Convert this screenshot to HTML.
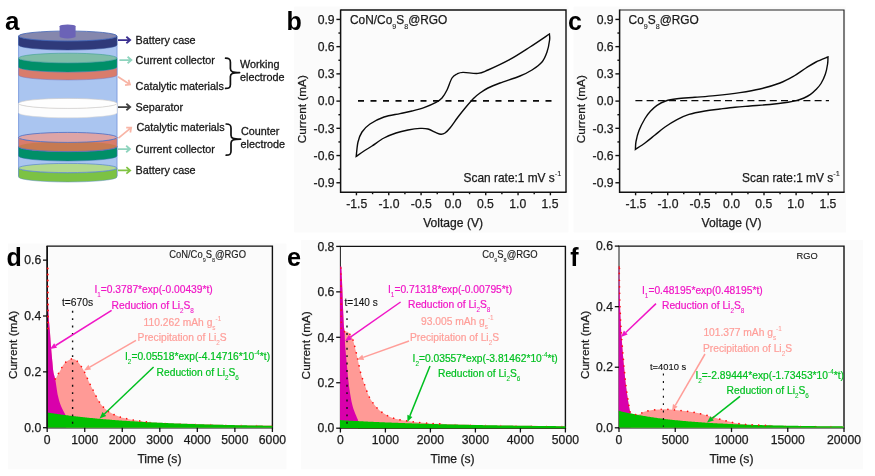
<!DOCTYPE html>
<html lang="en"><head><meta charset="utf-8"><title>Figure</title>
<style>html,body{margin:0;padding:0;background:#fff;}body{width:875px;height:476px;overflow:hidden;}svg{display:block;filter:blur(0.45px);}</style>
</head><body>
<svg width="875" height="476" viewBox="0 0 875 476" font-family='"Liberation Sans", sans-serif'>
<rect width="875" height="476" fill="#ffffff"/>
<rect x="294.2" y="6.6" width="274.2" height="225.8" fill="#fbfbfb"/>
<rect x="573.6" y="6.6" width="272.4" height="225.8" fill="#fbfbfb"/>
<rect x="8" y="243.6" width="278.4" height="225.6" fill="#fbfbfb"/>
<rect x="301" y="240" width="562" height="229.2" fill="#fbfbfb"/>
<path d="M18.6,36 L18.6,176 A49.2,5.0 0 0 0 117.0,176 L117.0,36 Z" fill="#aac5f0" stroke="#7897dc" stroke-width="0.9"/>
<path d="M18.6,168 L18.6,177 A49.2,5.0 0 0 0 117.0,177 L117.0,168 A49.2,5.0 0 0 1 18.6,168 Z" fill="#7cc244" stroke="#5a8fc0" stroke-width="0.5"/>
<ellipse cx="67.8" cy="168" rx="49.2" ry="4.6" fill="#b2d98d" stroke="#5a86cc" stroke-width="0.7"/>
<path d="M18.6,146.6 L18.6,156 A49.2,5.0 0 0 0 117.0,156 L117.0,146.6 A49.2,5.0 0 0 1 18.6,146.6 Z" fill="#008f68" stroke="#2a6fa8" stroke-width="0.5"/>
<path d="M18.6,137.4 L18.6,146.6 A49.2,5.0 0 0 0 117.0,146.6 L117.0,137.4 A49.2,5.0 0 0 1 18.6,137.4 Z" fill="#d97c6c" stroke="#6a76c0" stroke-width="0.5"/>
<path d="M18.6,146.6 A49.2,5.0 0 0 0 117.0,146.6 A49.2,5.0 0 0 0 18.6,146.6 Z" fill="#c67a52"/>
<path d="M18.6,146.6 A49.2,5.0 0 0 0 117.0,146.6" fill="none" stroke="#4a6ec6" stroke-width="0.7"/>
<ellipse cx="67.8" cy="137.4" rx="49.2" ry="5.0" fill="#dda4a6" stroke="#4a6ec6" stroke-width="0.8"/>
<path d="M18.6,103.4 L18.6,112.8 A49.2,5.0 0 0 0 117.0,112.8 L117.0,103.4 A49.2,5.0 0 0 1 18.6,103.4 Z" fill="#fdfdfd" stroke="#ddd8d0" stroke-width="0.5"/>
<ellipse cx="67.8" cy="103.4" rx="49.2" ry="5.0" fill="#fefefe" stroke="#cfcac4" stroke-width="0.6"/>
<path d="M18.6,67 L18.6,75 A49.2,5.0 0 0 0 117.0,75 L117.0,67 A49.2,5.0 0 0 1 18.6,67 Z" fill="#d97c6c" stroke="#7a78c0" stroke-width="0.5"/>
<path d="M18.6,58 L18.6,67 A49.2,5.0 0 0 0 117.0,67 L117.0,58 A49.2,5.0 0 0 1 18.6,58 Z" fill="#008f68" stroke="#2a7fa0" stroke-width="0.4"/>
<ellipse cx="67.8" cy="58" rx="49.2" ry="4.8" fill="#7fbda8" stroke="#3f9f94" stroke-width="0.6"/>
<path d="M18.6,36 L18.6,45.0 A49.2,5.0 0 0 0 117.0,45.0 L117.0,36 A49.2,5.0 0 0 1 18.6,36 Z" fill="#2f3a7a" stroke="#34509a" stroke-width="0.5"/>
<ellipse cx="67.8" cy="36" rx="49.2" ry="5.0" fill="#8587ad" stroke="#3f62b4" stroke-width="0.8"/>
<path d="M59.6,26.2 A7.9999999999999964,1.8 0 0 1 75.6,26.2 L75.6,36.6 A7.9999999999999964,1.8 0 0 1 59.6,36.6 Z" fill="#6b63b7"/>
<path d="M118.00,40.00 L130.20,40.00 M126.38,43.22 L130.20,40.00 L126.38,36.78" fill="none" stroke="#3a2f90" stroke-width="1.75" stroke-linecap="butt" stroke-linejoin="miter"/>
<path d="M119.40,60.00 L131.40,60.00 M127.58,63.22 L131.40,60.00 L127.58,56.78" fill="none" stroke="#8fd4be" stroke-width="1.75" stroke-linecap="butt" stroke-linejoin="miter"/>
<path d="M118.00,76.80 L130.00,84.60 M125.04,85.22 L130.00,84.60 L128.55,79.82" fill="none" stroke="#f8b5a6" stroke-width="1.75" stroke-linecap="butt" stroke-linejoin="miter"/>
<path d="M118.00,107.00 L130.20,107.00 M126.38,110.22 L130.20,107.00 L126.38,103.78" fill="none" stroke="#404040" stroke-width="1.75" stroke-linecap="butt" stroke-linejoin="miter"/>
<path d="M118.40,138.20 L131.20,127.60 M130.31,132.52 L131.20,127.60 L126.20,127.56" fill="none" stroke="#f8b5a6" stroke-width="1.75" stroke-linecap="butt" stroke-linejoin="miter"/>
<path d="M118.00,149.00 L130.00,149.00 M126.18,152.22 L130.00,149.00 L126.18,145.78" fill="none" stroke="#8fd4be" stroke-width="1.75" stroke-linecap="butt" stroke-linejoin="miter"/>
<path d="M118.00,170.40 L130.20,170.40 M126.38,173.62 L130.20,170.40 L126.38,167.18" fill="none" stroke="#80c342" stroke-width="1.75" stroke-linecap="butt" stroke-linejoin="miter"/>
<text x="135.60" y="43.80" font-size="10.8" fill="#161616" stroke="#161616" stroke-width="0.28">Battery case</text>
<text x="135.60" y="64.20" font-size="10.8" fill="#161616" stroke="#161616" stroke-width="0.28">Current collector</text>
<text x="135.60" y="89.60" font-size="10.8" fill="#161616" stroke="#161616" stroke-width="0.28">Catalytic materials</text>
<text x="135.60" y="110.50" font-size="10.8" fill="#161616" stroke="#161616" stroke-width="0.28">Separator</text>
<text x="136.40" y="130.70" font-size="10.8" fill="#161616" stroke="#161616" stroke-width="0.28">Catalytic materials</text>
<text x="135.60" y="152.50" font-size="10.8" fill="#161616" stroke="#161616" stroke-width="0.28">Current collector</text>
<text x="135.60" y="174.20" font-size="10.8" fill="#161616" stroke="#161616" stroke-width="0.28">Battery case</text>
<text x="240.00" y="67.70" font-size="10.8" fill="#161616" stroke="#161616" stroke-width="0.28">Working</text>
<text x="240.00" y="81.40" font-size="10.8" fill="#161616" stroke="#161616" stroke-width="0.28">electrode</text>
<text x="241.00" y="135.10" font-size="10.8" fill="#161616" stroke="#161616" stroke-width="0.28">Counter</text>
<text x="240.60" y="148.40" font-size="10.8" fill="#161616" stroke="#161616" stroke-width="0.28">electrode</text>
<path d="M225.6,58.2 C229.4,58.2 230.4,59.2 230.4,62.2 L230.4,68.6 C230.4,71.6 232.4,72.6 239.6,72.6 C232.4,72.6 230.4,73.6 230.4,76.6 L230.4,84.4 C230.4,87.4 229.4,88.4 225.6,88.4" fill="none" stroke="#111" stroke-width="1.7" stroke-linecap="round" stroke-linejoin="round"/>
<path d="M226.2,124.0 C230.0,124.0 231.0,125.0 231.0,128.0 L231.0,135.2 C231.0,138.2 233.0,139.2 240.6,139.2 C233.0,139.2 231.0,140.2 231.0,143.2 L231.0,151.2 C231.0,154.2 230.0,155.2 226.2,155.2" fill="none" stroke="#111" stroke-width="1.7" stroke-linecap="round" stroke-linejoin="round"/>
<text x="5.00" y="30.30" font-size="26" fill="#000" font-weight="bold">a</text>
<path d="M340.6,10.0 L566,10.0 L566,192.3" fill="none" stroke="#111" stroke-width="1.4"/>
<path d="M340.6,9.4 L340.6,192.3 L566.6,192.3" fill="none" stroke="#111" stroke-width="1.5"/>
<line x1="336.40" y1="19.42" x2="340.6" y2="19.42" stroke="#111" stroke-width="1.4"/>
<text x="334.60" y="23.67" font-size="12.2" fill="#1a1a1a" stroke="#1a1a1a" stroke-width="0.25" text-anchor="end">0.9</text>
<line x1="338.40" y1="33.04" x2="340.6" y2="33.04" stroke="#111" stroke-width="1.4"/>
<line x1="336.40" y1="46.65" x2="340.6" y2="46.65" stroke="#111" stroke-width="1.4"/>
<text x="334.60" y="50.90" font-size="12.2" fill="#1a1a1a" stroke="#1a1a1a" stroke-width="0.25" text-anchor="end">0.6</text>
<line x1="338.40" y1="60.26" x2="340.6" y2="60.26" stroke="#111" stroke-width="1.4"/>
<line x1="336.40" y1="73.87" x2="340.6" y2="73.87" stroke="#111" stroke-width="1.4"/>
<text x="334.60" y="78.12" font-size="12.2" fill="#1a1a1a" stroke="#1a1a1a" stroke-width="0.25" text-anchor="end">0.3</text>
<line x1="338.40" y1="87.49" x2="340.6" y2="87.49" stroke="#111" stroke-width="1.4"/>
<line x1="336.40" y1="101.10" x2="340.6" y2="101.10" stroke="#111" stroke-width="1.4"/>
<text x="334.60" y="105.35" font-size="12.2" fill="#1a1a1a" stroke="#1a1a1a" stroke-width="0.25" text-anchor="end">0.0</text>
<line x1="338.40" y1="114.71" x2="340.6" y2="114.71" stroke="#111" stroke-width="1.4"/>
<line x1="336.40" y1="128.32" x2="340.6" y2="128.32" stroke="#111" stroke-width="1.4"/>
<text x="334.60" y="132.57" font-size="12.2" fill="#1a1a1a" stroke="#1a1a1a" stroke-width="0.25" text-anchor="end">-0.3</text>
<line x1="338.40" y1="141.94" x2="340.6" y2="141.94" stroke="#111" stroke-width="1.4"/>
<line x1="336.40" y1="155.55" x2="340.6" y2="155.55" stroke="#111" stroke-width="1.4"/>
<text x="334.60" y="159.80" font-size="12.2" fill="#1a1a1a" stroke="#1a1a1a" stroke-width="0.25" text-anchor="end">-0.6</text>
<line x1="338.40" y1="169.16" x2="340.6" y2="169.16" stroke="#111" stroke-width="1.4"/>
<line x1="336.40" y1="182.77" x2="340.6" y2="182.77" stroke="#111" stroke-width="1.4"/>
<text x="334.60" y="187.02" font-size="12.2" fill="#1a1a1a" stroke="#1a1a1a" stroke-width="0.25" text-anchor="end">-0.9</text>
<line x1="356.43" y1="192.3" x2="356.43" y2="195.30" stroke="#111" stroke-width="1.4"/>
<text x="356.73" y="208.00" font-size="12.2" fill="#1a1a1a" stroke="#1a1a1a" stroke-width="0.25" text-anchor="middle">-1.5</text>
<line x1="372.59" y1="192.3" x2="372.59" y2="194.20" stroke="#111" stroke-width="1.4"/>
<line x1="388.75" y1="192.3" x2="388.75" y2="195.30" stroke="#111" stroke-width="1.4"/>
<text x="389.05" y="208.00" font-size="12.2" fill="#1a1a1a" stroke="#1a1a1a" stroke-width="0.25" text-anchor="middle">-1.0</text>
<line x1="404.91" y1="192.3" x2="404.91" y2="194.20" stroke="#111" stroke-width="1.4"/>
<line x1="421.08" y1="192.3" x2="421.08" y2="195.30" stroke="#111" stroke-width="1.4"/>
<text x="421.38" y="208.00" font-size="12.2" fill="#1a1a1a" stroke="#1a1a1a" stroke-width="0.25" text-anchor="middle">-0.5</text>
<line x1="437.24" y1="192.3" x2="437.24" y2="194.20" stroke="#111" stroke-width="1.4"/>
<line x1="453.40" y1="192.3" x2="453.40" y2="195.30" stroke="#111" stroke-width="1.4"/>
<text x="453.10" y="208.00" font-size="12.2" fill="#1a1a1a" stroke="#1a1a1a" stroke-width="0.25" text-anchor="middle">0.0</text>
<line x1="469.56" y1="192.3" x2="469.56" y2="194.20" stroke="#111" stroke-width="1.4"/>
<line x1="485.73" y1="192.3" x2="485.73" y2="195.30" stroke="#111" stroke-width="1.4"/>
<text x="485.43" y="208.00" font-size="12.2" fill="#1a1a1a" stroke="#1a1a1a" stroke-width="0.25" text-anchor="middle">0.5</text>
<line x1="501.89" y1="192.3" x2="501.89" y2="194.20" stroke="#111" stroke-width="1.4"/>
<line x1="518.05" y1="192.3" x2="518.05" y2="195.30" stroke="#111" stroke-width="1.4"/>
<text x="517.75" y="208.00" font-size="12.2" fill="#1a1a1a" stroke="#1a1a1a" stroke-width="0.25" text-anchor="middle">1.0</text>
<line x1="534.21" y1="192.3" x2="534.21" y2="194.20" stroke="#111" stroke-width="1.4"/>
<line x1="550.38" y1="192.3" x2="550.38" y2="195.30" stroke="#111" stroke-width="1.4"/>
<text x="550.08" y="208.00" font-size="12.2" fill="#1a1a1a" stroke="#1a1a1a" stroke-width="0.25" text-anchor="middle">1.5</text>
<line x1="358" y1="100.8" x2="552.5" y2="100.8" stroke="#0a0a0a" stroke-width="1.7" stroke-dasharray="6 6.5"/>
<path d="M356.20,156.40 C356.50,154.00 357.03,146.07 358.00,142.00 C358.97,137.93 360.00,135.00 362.00,132.00 C364.00,129.00 366.33,126.50 370.00,124.00 C373.67,121.50 379.00,118.73 384.00,117.00 C389.00,115.27 395.33,114.60 400.00,113.60 C404.67,112.60 408.00,112.00 412.00,111.00 C416.00,110.00 420.00,109.03 424.00,107.60 C428.00,106.17 433.00,104.00 436.00,102.40 C439.00,100.80 440.17,100.07 442.00,98.00 C443.83,95.93 445.33,93.33 447.00,90.00 C448.67,86.67 450.33,80.67 452.00,78.00 C453.67,75.33 455.17,74.93 457.00,74.00 C458.83,73.07 459.50,72.50 463.00,72.40 C466.50,72.30 473.83,73.80 478.00,73.40 C482.17,73.00 482.67,72.33 488.00,70.00 C493.33,67.67 503.00,63.23 510.00,59.40 C517.00,55.57 523.43,51.23 530.00,47.00 C536.57,42.77 546.17,36.17 549.40,34.00 C549.43,35.00 550.00,37.00 549.60,40.00 C549.20,43.00 548.27,48.33 547.00,52.00 C545.73,55.67 544.50,59.00 542.00,62.00 C539.50,65.00 535.67,67.67 532.00,70.00 C528.33,72.33 525.33,73.83 520.00,76.00 C514.67,78.17 505.33,81.00 500.00,83.00 C494.67,85.00 491.33,86.33 488.00,88.00 C484.67,89.67 482.33,91.33 480.00,93.00 C477.67,94.67 476.33,95.67 474.00,98.00 C471.67,100.33 468.67,103.83 466.00,107.00 C463.33,110.17 460.67,113.50 458.00,117.00 C455.33,120.50 452.17,125.33 450.00,128.00 C447.83,130.67 446.50,131.97 445.00,133.00 C443.50,134.03 442.50,134.27 441.00,134.20 C439.50,134.13 438.17,133.47 436.00,132.60 C433.83,131.73 430.67,129.70 428.00,129.00 C425.33,128.30 423.33,128.23 420.00,128.40 C416.67,128.57 412.00,129.23 408.00,130.00 C404.00,130.77 400.00,131.67 396.00,133.00 C392.00,134.33 388.00,135.83 384.00,138.00 C380.00,140.17 375.33,143.83 372.00,146.00 C368.67,148.17 366.63,149.27 364.00,151.00 C361.37,152.73 357.50,155.50 356.20,156.40 Z" fill="none" stroke="#0a0a0a" stroke-width="1.4" stroke-linejoin="miter"/>
<text x="350.00" y="24.10" font-size="11.9" fill="#1a1a1a" stroke="#1a1a1a" stroke-width="0.25">CoN/Co<tspan dy="4.52" font-size="7.14" stroke-width="0.10">9</tspan><tspan dy="-4.52">S</tspan><tspan dy="4.52" font-size="7.14" stroke-width="0.10">8</tspan><tspan dy="-4.52">@RGO</tspan></text>
<text x="463.60" y="181.50" font-size="11.9" fill="#1a1a1a" stroke="#1a1a1a" stroke-width="0.25">Scan rate:1 mV s<tspan dy="-5.71" font-size="7.38" stroke-width="0.10">-1</tspan></text>
<text x="423.20" y="227.20" font-size="12.1" fill="#1a1a1a" stroke="#1a1a1a" stroke-width="0.25">Voltage (V)</text>
<text transform="translate(306,109.19999999999999) rotate(-90)" font-size="11.8" fill="#1a1a1a" stroke="#1a1a1a" stroke-width="0.25" text-anchor="middle">Current (mA)</text>
<text x="286.60" y="29.90" font-size="25" fill="#000" font-weight="bold">b</text>
<path d="M619.6,10.0 L844,10.0 L844,192.3" fill="none" stroke="#222" stroke-width="1.15"/>
<path d="M619.6,9.4 L619.6,192.3 L844.6,192.3" fill="none" stroke="#111" stroke-width="1.5"/>
<line x1="615.40" y1="19.42" x2="619.6" y2="19.42" stroke="#111" stroke-width="1.4"/>
<text x="613.60" y="23.67" font-size="12.2" fill="#1a1a1a" stroke="#1a1a1a" stroke-width="0.25" text-anchor="end">0.9</text>
<line x1="617.40" y1="33.04" x2="619.6" y2="33.04" stroke="#111" stroke-width="1.4"/>
<line x1="615.40" y1="46.65" x2="619.6" y2="46.65" stroke="#111" stroke-width="1.4"/>
<text x="613.60" y="50.90" font-size="12.2" fill="#1a1a1a" stroke="#1a1a1a" stroke-width="0.25" text-anchor="end">0.6</text>
<line x1="617.40" y1="60.26" x2="619.6" y2="60.26" stroke="#111" stroke-width="1.4"/>
<line x1="615.40" y1="73.87" x2="619.6" y2="73.87" stroke="#111" stroke-width="1.4"/>
<text x="613.60" y="78.12" font-size="12.2" fill="#1a1a1a" stroke="#1a1a1a" stroke-width="0.25" text-anchor="end">0.3</text>
<line x1="617.40" y1="87.49" x2="619.6" y2="87.49" stroke="#111" stroke-width="1.4"/>
<line x1="615.40" y1="101.10" x2="619.6" y2="101.10" stroke="#111" stroke-width="1.4"/>
<text x="613.60" y="105.35" font-size="12.2" fill="#1a1a1a" stroke="#1a1a1a" stroke-width="0.25" text-anchor="end">0.0</text>
<line x1="617.40" y1="114.71" x2="619.6" y2="114.71" stroke="#111" stroke-width="1.4"/>
<line x1="615.40" y1="128.32" x2="619.6" y2="128.32" stroke="#111" stroke-width="1.4"/>
<text x="613.60" y="132.57" font-size="12.2" fill="#1a1a1a" stroke="#1a1a1a" stroke-width="0.25" text-anchor="end">-0.3</text>
<line x1="617.40" y1="141.94" x2="619.6" y2="141.94" stroke="#111" stroke-width="1.4"/>
<line x1="615.40" y1="155.55" x2="619.6" y2="155.55" stroke="#111" stroke-width="1.4"/>
<text x="613.60" y="159.80" font-size="12.2" fill="#1a1a1a" stroke="#1a1a1a" stroke-width="0.25" text-anchor="end">-0.6</text>
<line x1="617.40" y1="169.16" x2="619.6" y2="169.16" stroke="#111" stroke-width="1.4"/>
<line x1="615.40" y1="182.77" x2="619.6" y2="182.77" stroke="#111" stroke-width="1.4"/>
<text x="613.60" y="187.02" font-size="12.2" fill="#1a1a1a" stroke="#1a1a1a" stroke-width="0.25" text-anchor="end">-0.9</text>
<line x1="635.60" y1="192.3" x2="635.60" y2="195.30" stroke="#111" stroke-width="1.4"/>
<text x="635.90" y="208.00" font-size="12.2" fill="#1a1a1a" stroke="#1a1a1a" stroke-width="0.25" text-anchor="middle">-1.5</text>
<line x1="651.65" y1="192.3" x2="651.65" y2="194.20" stroke="#111" stroke-width="1.4"/>
<line x1="667.70" y1="192.3" x2="667.70" y2="195.30" stroke="#111" stroke-width="1.4"/>
<text x="668.00" y="208.00" font-size="12.2" fill="#1a1a1a" stroke="#1a1a1a" stroke-width="0.25" text-anchor="middle">-1.0</text>
<line x1="683.75" y1="192.3" x2="683.75" y2="194.20" stroke="#111" stroke-width="1.4"/>
<line x1="699.80" y1="192.3" x2="699.80" y2="195.30" stroke="#111" stroke-width="1.4"/>
<text x="700.10" y="208.00" font-size="12.2" fill="#1a1a1a" stroke="#1a1a1a" stroke-width="0.25" text-anchor="middle">-0.5</text>
<line x1="715.85" y1="192.3" x2="715.85" y2="194.20" stroke="#111" stroke-width="1.4"/>
<line x1="731.90" y1="192.3" x2="731.90" y2="195.30" stroke="#111" stroke-width="1.4"/>
<text x="731.60" y="208.00" font-size="12.2" fill="#1a1a1a" stroke="#1a1a1a" stroke-width="0.25" text-anchor="middle">0.0</text>
<line x1="747.95" y1="192.3" x2="747.95" y2="194.20" stroke="#111" stroke-width="1.4"/>
<line x1="764.00" y1="192.3" x2="764.00" y2="195.30" stroke="#111" stroke-width="1.4"/>
<text x="763.70" y="208.00" font-size="12.2" fill="#1a1a1a" stroke="#1a1a1a" stroke-width="0.25" text-anchor="middle">0.5</text>
<line x1="780.05" y1="192.3" x2="780.05" y2="194.20" stroke="#111" stroke-width="1.4"/>
<line x1="796.10" y1="192.3" x2="796.10" y2="195.30" stroke="#111" stroke-width="1.4"/>
<text x="795.80" y="208.00" font-size="12.2" fill="#1a1a1a" stroke="#1a1a1a" stroke-width="0.25" text-anchor="middle">1.0</text>
<line x1="812.15" y1="192.3" x2="812.15" y2="194.20" stroke="#111" stroke-width="1.4"/>
<line x1="828.20" y1="192.3" x2="828.20" y2="195.30" stroke="#111" stroke-width="1.4"/>
<text x="827.90" y="208.00" font-size="12.2" fill="#1a1a1a" stroke="#1a1a1a" stroke-width="0.25" text-anchor="middle">1.5</text>
<line x1="635.4" y1="100.6" x2="829" y2="100.6" stroke="#0a0a0a" stroke-width="1.2" stroke-dasharray="7 4.2"/>
<path d="M635.40,149.40 C635.50,148.08 635.40,144.65 636.00,141.50 C636.60,138.35 637.50,134.33 639.00,130.50 C640.50,126.67 643.10,121.70 645.00,118.50 C646.90,115.30 648.40,113.48 650.40,111.30 C652.40,109.12 654.45,107.12 657.00,105.40 C659.55,103.68 662.37,102.10 665.70,101.00 C669.03,99.90 672.12,99.42 677.00,98.80 C681.88,98.18 688.67,97.83 695.00,97.30 C701.33,96.77 707.50,96.38 715.00,95.60 C722.50,94.82 732.50,93.70 740.00,92.60 C747.50,91.50 753.33,90.60 760.00,89.00 C766.67,87.40 774.33,85.17 780.00,83.00 C785.67,80.83 789.67,78.50 794.00,76.00 C798.33,73.50 802.33,70.33 806.00,68.00 C809.67,65.67 812.33,63.83 816.00,62.00 C819.67,60.17 826.00,57.83 828.00,57.00 C827.93,58.17 828.03,61.17 827.60,64.00 C827.17,66.83 826.50,70.75 825.40,74.00 C824.30,77.25 822.57,80.90 821.00,83.50 C819.43,86.10 817.75,87.78 816.00,89.60 C814.25,91.42 812.50,93.00 810.50,94.40 C808.50,95.80 806.25,97.00 804.00,98.00 C801.75,99.00 799.67,99.70 797.00,100.40 C794.33,101.10 792.50,101.52 788.00,102.20 C783.50,102.88 776.33,103.87 770.00,104.50 C763.67,105.13 755.83,105.55 750.00,106.00 C744.17,106.45 740.00,106.70 735.00,107.20 C730.00,107.70 725.00,108.37 720.00,109.00 C715.00,109.63 710.17,110.10 705.00,111.00 C699.83,111.90 693.67,112.97 689.00,114.40 C684.33,115.83 681.00,117.50 677.00,119.60 C673.00,121.70 668.67,124.43 665.00,127.00 C661.33,129.57 658.33,132.33 655.00,135.00 C651.67,137.67 648.27,140.60 645.00,143.00 C641.73,145.40 637.00,148.33 635.40,149.40 Z" fill="none" stroke="#0a0a0a" stroke-width="1.4" stroke-linejoin="miter"/>
<text x="628.60" y="24.10" font-size="11.9" fill="#1a1a1a" stroke="#1a1a1a" stroke-width="0.25">Co<tspan dy="4.52" font-size="7.14" stroke-width="0.10">9</tspan><tspan dy="-4.52">S</tspan><tspan dy="4.52" font-size="7.14" stroke-width="0.10">8</tspan><tspan dy="-4.52">@RGO</tspan></text>
<text x="742.00" y="181.50" font-size="11.9" fill="#1a1a1a" stroke="#1a1a1a" stroke-width="0.25">Scan rate:1 mV s<tspan dy="-5.71" font-size="7.38" stroke-width="0.10">-1</tspan></text>
<text x="701.60" y="227.20" font-size="12.1" fill="#1a1a1a" stroke="#1a1a1a" stroke-width="0.25">Voltage (V)</text>
<text transform="translate(585,109.19999999999999) rotate(-90)" font-size="11.8" fill="#1a1a1a" stroke="#1a1a1a" stroke-width="0.25" text-anchor="middle">Current (mA)</text>
<text x="568.00" y="29.90" font-size="25" fill="#000" font-weight="bold">c</text>
<path d="M47.2,246.1 L272.4,246.1 L272.4,427.7 L47.2,427.7" fill="none" stroke="#111" stroke-width="1.4" stroke-linecap="square"/>
<path d="M47.2,427.7 L47.2,246.1" fill="none" stroke="#111" stroke-width="1.4"/>
<path d="M47.30,267.00 C47.37,270.83 47.48,282.00 47.70,290.00 C47.92,298.00 48.25,308.33 48.60,315.00 C48.95,321.67 49.37,324.33 49.80,330.00 C50.23,335.67 50.77,343.67 51.20,349.00 C51.63,354.33 52.03,358.17 52.40,362.00 C52.77,365.83 52.93,369.17 53.40,372.00 C53.87,374.83 54.52,378.50 55.20,379.00 C55.88,379.50 56.70,376.33 57.50,375.00 C58.30,373.67 58.92,372.83 60.00,371.00 C61.08,369.17 62.50,365.83 64.00,364.00 C65.50,362.17 67.50,360.83 69.00,360.00 C70.50,359.17 71.50,358.67 73.00,359.00 C74.50,359.33 76.17,360.00 78.00,362.00 C79.83,364.00 82.17,367.67 84.00,371.00 C85.83,374.33 87.33,378.50 89.00,382.00 C90.67,385.50 92.17,388.50 94.00,392.00 C95.83,395.50 98.00,400.07 100.00,403.00 C102.00,405.93 104.00,407.83 106.00,409.60 C108.00,411.37 109.67,412.37 112.00,413.60 C114.33,414.83 117.00,416.03 120.00,417.00 C123.00,417.97 126.67,418.73 130.00,419.40 C133.33,420.07 136.67,420.53 140.00,421.00 C143.33,421.47 146.67,421.90 150.00,422.20 C153.33,422.50 155.83,422.57 160.00,422.80 C164.17,423.03 169.00,423.40 175.00,423.60 C181.00,423.80 186.83,423.77 196.00,424.00 C205.17,424.23 217.33,424.73 230.00,425.00 C242.67,425.27 265.00,425.50 272.00,425.60 L272.00,427.7 L47.30,427.7 Z" fill="#ff9a96"/>
<path d="M47.30,267.00 C47.37,270.83 47.48,282.00 47.70,290.00 C47.92,298.00 48.25,308.33 48.60,315.00 C48.95,321.67 49.37,324.33 49.80,330.00 C50.23,335.67 50.77,343.67 51.20,349.00 C51.63,354.33 52.03,358.17 52.40,362.00 C52.77,365.83 52.93,369.17 53.40,372.00 C53.87,374.83 54.43,375.00 55.20,379.00 C55.97,383.00 57.03,391.50 58.00,396.00 C58.97,400.50 59.83,403.00 61.00,406.00 C62.17,409.00 64.17,412.33 65.00,414.00 C65.83,415.67 65.83,415.67 66.00,416.00 L66.00,427.7 L47.2,427.7 L47.2,267 Z" fill="#d900ab"/>
<path d="M47.2,427.7 L47.2,412.48 L47.20,412.48 L48.33,412.66 L49.45,412.83 L50.58,413.01 L51.70,413.18 L52.83,413.35 L53.96,413.51 L55.08,413.68 L56.21,413.84 L57.33,414.00 L58.46,414.16 L59.59,414.32 L60.71,414.47 L61.84,414.63 L62.96,414.78 L64.09,414.93 L65.22,415.07 L66.34,415.22 L67.47,415.36 L68.59,415.51 L69.72,415.65 L70.85,415.79 L71.97,415.92 L73.10,416.06 L74.22,416.19 L75.35,416.32 L76.48,416.46 L77.60,416.58 L78.73,416.71 L79.85,416.84 L80.98,416.96 L82.11,417.08 L83.23,417.21 L84.36,417.33 L85.48,417.44 L86.61,417.56 L87.74,417.68 L88.86,417.79 L89.99,417.90 L91.11,418.01 L92.24,418.12 L93.37,418.23 L94.49,418.34 L95.62,418.45 L96.74,418.55 L97.87,418.65 L99.00,418.76 L100.12,418.86 L101.25,418.96 L102.37,419.05 L103.50,419.15 L104.63,419.25 L105.75,419.34 L106.88,419.44 L108.00,419.53 L109.13,419.62 L110.26,419.71 L111.38,419.80 L112.51,419.89 L113.63,419.97 L114.76,420.06 L115.89,420.14 L117.01,420.23 L118.14,420.31 L119.26,420.39 L120.39,420.47 L121.52,420.55 L122.64,420.63 L123.77,420.71 L124.89,420.79 L126.02,420.86 L127.15,420.94 L128.27,421.01 L129.40,421.09 L130.52,421.16 L131.65,421.23 L132.78,421.30 L133.90,421.37 L135.03,421.44 L136.15,421.51 L137.28,421.57 L138.41,421.64 L139.53,421.71 L140.66,421.77 L141.78,421.83 L142.91,421.90 L144.04,421.96 L145.16,422.02 L146.29,422.08 L147.41,422.14 L148.54,422.20 L149.67,422.26 L150.79,422.32 L151.92,422.38 L153.04,422.43 L154.17,422.49 L155.30,422.54 L156.42,422.60 L157.55,422.65 L158.67,422.70 L159.80,422.76 L160.93,422.81 L162.05,422.86 L163.18,422.91 L164.30,422.96 L165.43,423.01 L166.56,423.06 L167.68,423.11 L168.81,423.16 L169.93,423.20 L171.06,423.25 L172.19,423.29 L173.31,423.34 L174.44,423.38 L175.56,423.43 L176.69,423.47 L177.82,423.52 L178.94,423.56 L180.07,423.60 L181.19,423.64 L182.32,423.68 L183.45,423.72 L184.57,423.76 L185.70,423.80 L186.82,423.84 L187.95,423.88 L189.08,423.92 L190.20,423.96 L191.33,423.99 L192.45,424.03 L193.58,424.07 L194.71,424.10 L195.83,424.14 L196.96,424.17 L198.08,424.21 L199.21,424.24 L200.34,424.28 L201.46,424.31 L202.59,424.34 L203.71,424.37 L204.84,424.41 L205.97,424.44 L207.09,424.47 L208.22,424.50 L209.34,424.53 L210.47,424.56 L211.60,424.59 L212.72,424.62 L213.85,424.65 L214.97,424.68 L216.10,424.71 L217.23,424.74 L218.35,424.76 L219.48,424.79 L220.60,424.82 L221.73,424.84 L222.86,424.87 L223.98,424.90 L225.11,424.92 L226.23,424.95 L227.36,424.97 L228.49,425.00 L229.61,425.02 L230.74,425.05 L231.86,425.07 L232.99,425.09 L234.12,425.12 L235.24,425.14 L236.37,425.16 L237.49,425.19 L238.62,425.21 L239.75,425.23 L240.87,425.25 L242.00,425.27 L243.12,425.29 L244.25,425.31 L245.38,425.34 L246.50,425.36 L247.63,425.38 L248.75,425.40 L249.88,425.42 L251.01,425.43 L252.13,425.45 L253.26,425.47 L254.38,425.49 L255.51,425.51 L256.64,425.53 L257.76,425.55 L258.89,425.56 L260.01,425.58 L261.14,425.60 L262.27,425.62 L263.39,425.63 L264.52,425.65 L265.64,425.67 L266.77,425.68 L267.90,425.70 L269.02,425.71 L270.15,425.73 L271.27,425.75 L272.40,425.76 L272.4,427.7 Z" fill="#00c000"/>
<line x1="72.6" y1="310.8" x2="72.6" y2="426.7" stroke="#111" stroke-width="1.4" stroke-dasharray="1.9 5.5"/>
<path d="M47.2,427.7 L47.2,246.1" fill="none" stroke="#111" stroke-width="1.4"/>
<path d="M55.20,379.00 C55.58,378.33 56.70,376.33 57.50,375.00 C58.30,373.67 58.92,372.83 60.00,371.00 C61.08,369.17 62.50,365.83 64.00,364.00 C65.50,362.17 67.50,360.83 69.00,360.00 C70.50,359.17 71.50,358.67 73.00,359.00 C74.50,359.33 76.17,360.00 78.00,362.00 C79.83,364.00 82.17,367.67 84.00,371.00 C85.83,374.33 87.33,378.50 89.00,382.00 C90.67,385.50 92.17,388.50 94.00,392.00 C95.83,395.50 98.00,400.07 100.00,403.00 C102.00,405.93 104.00,407.83 106.00,409.60 C108.00,411.37 109.67,412.37 112.00,413.60 C114.33,414.83 117.00,416.03 120.00,417.00 C123.00,417.97 126.67,418.73 130.00,419.40 C133.33,420.07 136.67,420.53 140.00,421.00 C143.33,421.47 148.33,422.00 150.00,422.20" fill="none" stroke="#ff1010" stroke-width="1.7" stroke-dasharray="0.01 6.6" stroke-linecap="round"/>
<path d="M150.00,422.20 C151.67,422.30 155.83,422.57 160.00,422.80 C164.17,423.03 169.00,423.40 175.00,423.60 C181.00,423.80 186.83,423.77 196.00,424.00 C205.17,424.23 217.33,424.73 230.00,425.00 C242.67,425.27 265.00,425.50 272.00,425.60" fill="none" stroke="#ff1010" stroke-width="1.2" stroke-dasharray="0.01 15.2" stroke-linecap="round" opacity="0.45"/>
<line x1="47.7" y1="268.5" x2="48.1" y2="334" stroke="#ff1010" stroke-width="2.0" stroke-dasharray="0.01 6" stroke-linecap="round"/>
<line x1="43.00" y1="427.70" x2="47.2" y2="427.70" stroke="#111" stroke-width="1.3"/>
<text x="41.20" y="431.95" font-size="12.2" fill="#1a1a1a" stroke="#1a1a1a" stroke-width="0.25" text-anchor="end">0.0</text>
<line x1="43.00" y1="371.85" x2="47.2" y2="371.85" stroke="#111" stroke-width="1.3"/>
<text x="41.20" y="376.10" font-size="12.2" fill="#1a1a1a" stroke="#1a1a1a" stroke-width="0.25" text-anchor="end">0.2</text>
<line x1="43.00" y1="316.00" x2="47.2" y2="316.00" stroke="#111" stroke-width="1.3"/>
<text x="41.20" y="320.25" font-size="12.2" fill="#1a1a1a" stroke="#1a1a1a" stroke-width="0.25" text-anchor="end">0.4</text>
<line x1="43.00" y1="260.15" x2="47.2" y2="260.15" stroke="#111" stroke-width="1.3"/>
<text x="41.20" y="264.40" font-size="12.2" fill="#1a1a1a" stroke="#1a1a1a" stroke-width="0.25" text-anchor="end">0.6</text>
<line x1="47.20" y1="427.7" x2="47.20" y2="432.00" stroke="#111" stroke-width="1.3"/>
<text x="47.20" y="443.70" font-size="12.2" fill="#1a1a1a" stroke="#1a1a1a" stroke-width="0.25" text-anchor="middle">0</text>
<line x1="84.73" y1="427.7" x2="84.73" y2="432.00" stroke="#111" stroke-width="1.3"/>
<text x="84.73" y="443.70" font-size="12.2" fill="#1a1a1a" stroke="#1a1a1a" stroke-width="0.25" text-anchor="middle">1000</text>
<line x1="122.27" y1="427.7" x2="122.27" y2="432.00" stroke="#111" stroke-width="1.3"/>
<text x="122.27" y="443.70" font-size="12.2" fill="#1a1a1a" stroke="#1a1a1a" stroke-width="0.25" text-anchor="middle">2000</text>
<line x1="159.80" y1="427.7" x2="159.80" y2="432.00" stroke="#111" stroke-width="1.3"/>
<text x="159.80" y="443.70" font-size="12.2" fill="#1a1a1a" stroke="#1a1a1a" stroke-width="0.25" text-anchor="middle">3000</text>
<line x1="197.33" y1="427.7" x2="197.33" y2="432.00" stroke="#111" stroke-width="1.3"/>
<text x="197.33" y="443.70" font-size="12.2" fill="#1a1a1a" stroke="#1a1a1a" stroke-width="0.25" text-anchor="middle">4000</text>
<line x1="234.87" y1="427.7" x2="234.87" y2="432.00" stroke="#111" stroke-width="1.3"/>
<text x="234.87" y="443.70" font-size="12.2" fill="#1a1a1a" stroke="#1a1a1a" stroke-width="0.25" text-anchor="middle">5000</text>
<line x1="272.40" y1="427.7" x2="272.40" y2="432.00" stroke="#111" stroke-width="1.3"/>
<text x="272.40" y="443.70" font-size="12.2" fill="#1a1a1a" stroke="#1a1a1a" stroke-width="0.25" text-anchor="middle">6000</text>
<text x="94.40" y="293.00" font-size="10.25" fill="#f016c6" stroke="#f016c6" stroke-width="0.2">I<tspan dy="3.90" font-size="6.35" stroke-width="0.08">1</tspan><tspan dy="-3.90">=0.3787*exp(-0.00439*t)</tspan></text>
<text x="111.60" y="309.00" font-size="10.25" fill="#f016c6" stroke="#f016c6" stroke-width="0.2">Reduction of Li<tspan dy="3.90" font-size="6.35" stroke-width="0.08">2</tspan><tspan dy="-3.90">S</tspan><tspan dy="3.90" font-size="6.35" stroke-width="0.08">8</tspan></text>
<text x="143.60" y="325.60" font-size="10.25" fill="#ff9e99" stroke="#ff9e99" stroke-width="0.2">110.262 mAh g<tspan dy="3.90" font-size="6.35" stroke-width="0.08">s</tspan><tspan dy="-8.81" font-size="6.35" stroke-width="0.08">-1</tspan></text>
<text x="137.60" y="341.00" font-size="10.25" fill="#ff9e99" stroke="#ff9e99" stroke-width="0.2">Precipitation of Li<tspan dy="3.90" font-size="6.35" stroke-width="0.08">2</tspan><tspan dy="-3.90">S</tspan></text>
<text x="125.00" y="360.40" font-size="10.25" fill="#00c020" stroke="#00c020" stroke-width="0.2">I<tspan dy="3.90" font-size="6.35" stroke-width="0.08">2</tspan><tspan dy="-3.90">=0.05518*exp(-4.14716*10</tspan><tspan dy="-4.92" font-size="6.35" stroke-width="0.08">-4</tspan><tspan dy="4.92">*t)</tspan></text>
<text x="156.60" y="376.00" font-size="10.25" fill="#00c020" stroke="#00c020" stroke-width="0.2">Reduction of Li<tspan dy="3.90" font-size="6.35" stroke-width="0.08">2</tspan><tspan dy="-3.90">S</tspan><tspan dy="3.90" font-size="6.35" stroke-width="0.08">6</tspan></text>
<text x="62" y="306" font-size="10.3" fill="#111" stroke="#111" stroke-width="0.12">t=670s</text>
<text transform="translate(169.20,257.50) scale(0.905,1)" font-size="10.4" fill="#1a1a1a" stroke="#1a1a1a" stroke-width="0.15">CoN/Co<tspan dy="4.16" font-size="6.03" stroke-width="0.06">9</tspan><tspan dy="-4.16">S</tspan><tspan dy="4.16" font-size="6.03" stroke-width="0.06">8</tspan><tspan dy="-4.16">@RGO</tspan></text>
<line x1="111.60" y1="310.40" x2="55.59" y2="345.50" stroke="#f016c6" stroke-width="1.5"/>
<path d="M50.00,349.00 L54.16,343.21 L57.03,347.78 Z" fill="#f016c6"/>
<line x1="136.00" y1="340.40" x2="89.72" y2="367.10" stroke="#ff9e99" stroke-width="1.5"/>
<path d="M84.00,370.40 L88.37,364.76 L91.07,369.44 Z" fill="#ff9e99"/>
<line x1="153.60" y1="367.00" x2="104.38" y2="413.94" stroke="#00c020" stroke-width="1.5"/>
<path d="M99.60,418.50 L102.51,411.99 L106.24,415.90 Z" fill="#00c020"/>
<text x="137.40" y="462.80" font-size="12.15" fill="#1a1a1a" stroke="#1a1a1a" stroke-width="0.25">Time (s)</text>
<text transform="translate(17.1,344.9) rotate(-90)" font-size="11.8" fill="#1a1a1a" stroke="#1a1a1a" stroke-width="0.25" text-anchor="middle">Current (mA)</text>
<text x="6.40" y="266.00" font-size="25" fill="#000" font-weight="bold">d</text>
<path d="M340.4,246.4 L565.4,246.4 L565.4,428.2 L340.4,428.2" fill="none" stroke="#111" stroke-width="1.4" stroke-linecap="square"/>
<path d="M340.4,428.2 L340.4,246.4" fill="none" stroke="#222" stroke-width="1.05"/>
<path d="M341.40,266.60 C341.57,270.50 342.10,282.43 342.40,290.00 C342.70,297.57 342.95,306.00 343.20,312.00 C343.45,318.00 343.67,322.73 343.90,326.00 C344.13,329.27 344.42,330.60 344.60,331.60 C344.78,332.60 344.60,332.00 345.00,332.00 C345.40,332.00 346.17,331.18 347.00,331.60 C347.83,332.02 349.00,333.10 350.00,334.50 C351.00,335.90 351.83,336.42 353.00,340.00 C354.17,343.58 355.67,350.33 357.00,356.00 C358.33,361.67 359.67,369.07 361.00,374.00 C362.33,378.93 363.67,381.85 365.00,385.60 C366.33,389.35 367.33,393.17 369.00,396.50 C370.67,399.83 373.00,403.08 375.00,405.60 C377.00,408.12 378.67,409.80 381.00,411.60 C383.33,413.40 386.00,415.07 389.00,416.40 C392.00,417.73 394.67,418.67 399.00,419.60 C403.33,420.53 409.67,421.37 415.00,422.00 C420.33,422.63 426.83,423.10 431.00,423.40 C435.17,423.70 435.17,423.63 440.00,423.80 C444.83,423.97 450.00,424.13 460.00,424.40 C470.00,424.67 482.50,425.10 500.00,425.40 C517.50,425.70 554.17,426.07 565.00,426.20 L565.00,428.2 L341.40,428.2 Z" fill="#ff9a96"/>
<path d="M341.40,266.60 C341.57,270.50 342.10,282.43 342.40,290.00 C342.70,297.57 342.95,306.00 343.20,312.00 C343.45,318.00 343.67,322.73 343.90,326.00 C344.13,329.27 344.38,328.27 344.60,331.60 C344.82,334.93 344.80,340.27 345.20,346.00 C345.60,351.73 346.37,359.33 347.00,366.00 C347.63,372.67 348.07,379.33 349.00,386.00 C349.93,392.67 351.10,400.33 352.60,406.00 C354.10,411.67 357.10,417.67 358.00,420.00 L358.00,428.2 L340.0,428.2 L340.0,266.6 Z" fill="#d900ab"/>
<path d="M340.0,428.2 L340.0,420.11 L340.40,420.11 L341.52,420.18 L342.65,420.25 L343.77,420.31 L344.90,420.38 L346.02,420.44 L347.15,420.51 L348.27,420.57 L349.40,420.64 L350.52,420.70 L351.65,420.76 L352.77,420.82 L353.90,420.88 L355.02,420.94 L356.15,421.00 L357.27,421.06 L358.40,421.12 L359.52,421.18 L360.65,421.24 L361.77,421.30 L362.90,421.35 L364.02,421.41 L365.15,421.46 L366.27,421.52 L367.40,421.57 L368.52,421.63 L369.65,421.68 L370.77,421.73 L371.90,421.79 L373.02,421.84 L374.15,421.89 L375.27,421.94 L376.40,421.99 L377.52,422.04 L378.65,422.09 L379.77,422.14 L380.90,422.19 L382.02,422.24 L383.15,422.29 L384.27,422.33 L385.40,422.38 L386.52,422.43 L387.65,422.47 L388.77,422.52 L389.90,422.56 L391.02,422.61 L392.15,422.65 L393.27,422.70 L394.40,422.74 L395.52,422.78 L396.65,422.83 L397.77,422.87 L398.90,422.91 L400.02,422.95 L401.15,422.99 L402.27,423.03 L403.40,423.07 L404.52,423.11 L405.65,423.15 L406.77,423.19 L407.90,423.23 L409.02,423.27 L410.15,423.31 L411.27,423.34 L412.40,423.38 L413.52,423.42 L414.65,423.45 L415.77,423.49 L416.90,423.53 L418.02,423.56 L419.15,423.60 L420.27,423.63 L421.40,423.67 L422.52,423.70 L423.65,423.74 L424.77,423.77 L425.90,423.80 L427.02,423.84 L428.15,423.87 L429.27,423.90 L430.40,423.93 L431.52,423.96 L432.65,424.00 L433.77,424.03 L434.90,424.06 L436.02,424.09 L437.15,424.12 L438.27,424.15 L439.40,424.18 L440.52,424.21 L441.65,424.24 L442.77,424.27 L443.90,424.29 L445.02,424.32 L446.15,424.35 L447.27,424.38 L448.40,424.41 L449.52,424.43 L450.65,424.46 L451.77,424.49 L452.90,424.51 L454.02,424.54 L455.15,424.57 L456.27,424.59 L457.40,424.62 L458.52,424.64 L459.65,424.67 L460.77,424.69 L461.90,424.72 L463.02,424.74 L464.15,424.77 L465.27,424.79 L466.40,424.81 L467.52,424.84 L468.65,424.86 L469.77,424.88 L470.90,424.91 L472.02,424.93 L473.15,424.95 L474.27,424.97 L475.40,424.99 L476.52,425.02 L477.65,425.04 L478.77,425.06 L479.90,425.08 L481.02,425.10 L482.15,425.12 L483.27,425.14 L484.40,425.16 L485.52,425.18 L486.65,425.20 L487.77,425.22 L488.90,425.24 L490.02,425.26 L491.15,425.28 L492.27,425.30 L493.40,425.32 L494.52,425.34 L495.65,425.36 L496.77,425.37 L497.90,425.39 L499.02,425.41 L500.15,425.43 L501.27,425.45 L502.40,425.46 L503.52,425.48 L504.65,425.50 L505.77,425.51 L506.90,425.53 L508.02,425.55 L509.15,425.56 L510.27,425.58 L511.40,425.60 L512.52,425.61 L513.65,425.63 L514.77,425.64 L515.90,425.66 L517.02,425.68 L518.15,425.69 L519.27,425.71 L520.40,425.72 L521.52,425.74 L522.65,425.75 L523.77,425.76 L524.90,425.78 L526.02,425.79 L527.15,425.81 L528.27,425.82 L529.40,425.84 L530.52,425.85 L531.65,425.86 L532.77,425.88 L533.90,425.89 L535.02,425.90 L536.15,425.92 L537.27,425.93 L538.40,425.94 L539.52,425.95 L540.65,425.97 L541.77,425.98 L542.90,425.99 L544.02,426.00 L545.15,426.02 L546.27,426.03 L547.40,426.04 L548.52,426.05 L549.65,426.06 L550.77,426.08 L551.90,426.09 L553.02,426.10 L554.15,426.11 L555.27,426.12 L556.40,426.13 L557.52,426.14 L558.65,426.15 L559.77,426.16 L560.90,426.18 L562.02,426.19 L563.15,426.20 L564.27,426.21 L565.40,426.22 L565.4,428.2 Z" fill="#00c000"/>
<line x1="347" y1="310.8" x2="347" y2="427.2" stroke="#111" stroke-width="1.4" stroke-dasharray="1.9 5.5"/>
<path d="M344.60,331.60 C344.67,331.67 344.60,332.00 345.00,332.00 C345.40,332.00 346.17,331.18 347.00,331.60 C347.83,332.02 349.00,333.10 350.00,334.50 C351.00,335.90 351.83,336.42 353.00,340.00 C354.17,343.58 355.67,350.33 357.00,356.00 C358.33,361.67 359.67,369.07 361.00,374.00 C362.33,378.93 363.67,381.85 365.00,385.60 C366.33,389.35 367.33,393.17 369.00,396.50 C370.67,399.83 373.00,403.08 375.00,405.60 C377.00,408.12 378.67,409.80 381.00,411.60 C383.33,413.40 386.00,415.07 389.00,416.40 C392.00,417.73 394.67,418.67 399.00,419.60 C403.33,420.53 409.67,421.37 415.00,422.00 C420.33,422.63 426.83,423.10 431.00,423.40 C435.17,423.70 438.50,423.73 440.00,423.80" fill="none" stroke="#ff1010" stroke-width="1.7" stroke-dasharray="0.01 6.6" stroke-linecap="round"/>
<path d="M440.00,423.80 C443.33,423.90 450.00,424.13 460.00,424.40 C470.00,424.67 482.50,425.10 500.00,425.40 C517.50,425.70 554.17,426.07 565.00,426.20" fill="none" stroke="#ff1010" stroke-width="1.2" stroke-dasharray="0.01 15.2" stroke-linecap="round" opacity="0.45"/>
<line x1="340.9" y1="268.1" x2="341.29999999999995" y2="330" stroke="#ff1010" stroke-width="1.6" stroke-dasharray="0.01 6" stroke-linecap="round"/>
<line x1="336.20" y1="428.20" x2="340.4" y2="428.20" stroke="#111" stroke-width="1.3"/>
<text x="334.40" y="432.45" font-size="12.2" fill="#1a1a1a" stroke="#1a1a1a" stroke-width="0.25" text-anchor="end">0.0</text>
<line x1="336.20" y1="382.75" x2="340.4" y2="382.75" stroke="#111" stroke-width="1.3"/>
<text x="334.40" y="387.00" font-size="12.2" fill="#1a1a1a" stroke="#1a1a1a" stroke-width="0.25" text-anchor="end">0.2</text>
<line x1="336.20" y1="337.30" x2="340.4" y2="337.30" stroke="#111" stroke-width="1.3"/>
<text x="334.40" y="341.55" font-size="12.2" fill="#1a1a1a" stroke="#1a1a1a" stroke-width="0.25" text-anchor="end">0.4</text>
<line x1="336.20" y1="291.85" x2="340.4" y2="291.85" stroke="#111" stroke-width="1.3"/>
<text x="334.40" y="296.10" font-size="12.2" fill="#1a1a1a" stroke="#1a1a1a" stroke-width="0.25" text-anchor="end">0.6</text>
<line x1="336.20" y1="246.40" x2="340.4" y2="246.40" stroke="#111" stroke-width="1.3"/>
<text x="334.40" y="250.65" font-size="12.2" fill="#1a1a1a" stroke="#1a1a1a" stroke-width="0.25" text-anchor="end">0.8</text>
<line x1="340.40" y1="428.2" x2="340.40" y2="432.50" stroke="#111" stroke-width="1.3"/>
<text x="340.40" y="444.20" font-size="12.2" fill="#1a1a1a" stroke="#1a1a1a" stroke-width="0.25" text-anchor="middle">0</text>
<line x1="385.40" y1="428.2" x2="385.40" y2="432.50" stroke="#111" stroke-width="1.3"/>
<text x="385.40" y="444.20" font-size="12.2" fill="#1a1a1a" stroke="#1a1a1a" stroke-width="0.25" text-anchor="middle">1000</text>
<line x1="430.40" y1="428.2" x2="430.40" y2="432.50" stroke="#111" stroke-width="1.3"/>
<text x="430.40" y="444.20" font-size="12.2" fill="#1a1a1a" stroke="#1a1a1a" stroke-width="0.25" text-anchor="middle">2000</text>
<line x1="475.40" y1="428.2" x2="475.40" y2="432.50" stroke="#111" stroke-width="1.3"/>
<text x="475.40" y="444.20" font-size="12.2" fill="#1a1a1a" stroke="#1a1a1a" stroke-width="0.25" text-anchor="middle">3000</text>
<line x1="520.40" y1="428.2" x2="520.40" y2="432.50" stroke="#111" stroke-width="1.3"/>
<text x="520.40" y="444.20" font-size="12.2" fill="#1a1a1a" stroke="#1a1a1a" stroke-width="0.25" text-anchor="middle">4000</text>
<line x1="565.40" y1="428.2" x2="565.40" y2="432.50" stroke="#111" stroke-width="1.3"/>
<text x="565.40" y="444.20" font-size="12.2" fill="#1a1a1a" stroke="#1a1a1a" stroke-width="0.25" text-anchor="middle">5000</text>
<text x="388.00" y="292.70" font-size="10.25" fill="#f016c6" stroke="#f016c6" stroke-width="0.2">I<tspan dy="3.90" font-size="6.35" stroke-width="0.08">1</tspan><tspan dy="-3.90">=0.71318*exp(-0.00795*t)</tspan></text>
<text x="408.00" y="308.00" font-size="10.25" fill="#f016c6" stroke="#f016c6" stroke-width="0.2">Reduction of Li<tspan dy="3.90" font-size="6.35" stroke-width="0.08">2</tspan><tspan dy="-3.90">S</tspan><tspan dy="3.90" font-size="6.35" stroke-width="0.08">8</tspan></text>
<text x="421.00" y="325.00" font-size="10.25" fill="#ff9e99" stroke="#ff9e99" stroke-width="0.2">93.005 mAh g<tspan dy="3.90" font-size="6.35" stroke-width="0.08">s</tspan><tspan dy="-8.81" font-size="6.35" stroke-width="0.08">-1</tspan></text>
<text x="410.00" y="341.00" font-size="10.25" fill="#ff9e99" stroke="#ff9e99" stroke-width="0.2">Precipitation of Li<tspan dy="3.90" font-size="6.35" stroke-width="0.08">2</tspan><tspan dy="-3.90">S</tspan></text>
<text x="412.60" y="362.00" font-size="10.25" fill="#00c020" stroke="#00c020" stroke-width="0.2">I<tspan dy="3.90" font-size="6.35" stroke-width="0.08">2</tspan><tspan dy="-3.90">=0.03557*exp(-3.81462*10</tspan><tspan dy="-4.92" font-size="6.35" stroke-width="0.08">-4</tspan><tspan dy="4.92">*t)</tspan></text>
<text x="438.00" y="377.00" font-size="10.25" fill="#00c020" stroke="#00c020" stroke-width="0.2">Reduction of Li<tspan dy="3.90" font-size="6.35" stroke-width="0.08">2</tspan><tspan dy="-3.90">S</tspan><tspan dy="3.90" font-size="6.35" stroke-width="0.08">6</tspan></text>
<text x="344.6" y="305.8" font-size="10.0" fill="#111" stroke="#111" stroke-width="0.12">t=140 s</text>
<text transform="translate(482.20,257.90) scale(0.925,1)" font-size="10.2" fill="#1a1a1a" stroke="#1a1a1a" stroke-width="0.15">Co<tspan dy="4.08" font-size="5.92" stroke-width="0.06">9</tspan><tspan dy="-4.08">S</tspan><tspan dy="4.08" font-size="5.92" stroke-width="0.06">8</tspan><tspan dy="-4.08">@RGO</tspan></text>
<line x1="400.60" y1="302.00" x2="350.40" y2="337.21" stroke="#f016c6" stroke-width="1.5"/>
<path d="M345.00,341.00 L348.85,335.00 L351.95,339.42 Z" fill="#f016c6"/>
<line x1="409.00" y1="341.00" x2="363.21" y2="357.38" stroke="#ff9e99" stroke-width="1.5"/>
<path d="M357.00,359.60 L362.31,354.83 L364.12,359.92 Z" fill="#ff9e99"/>
<line x1="430.00" y1="366.00" x2="409.87" y2="415.88" stroke="#00c020" stroke-width="1.5"/>
<path d="M407.40,422.00 L407.37,414.87 L412.37,416.89 Z" fill="#00c020"/>
<text x="430.60" y="462.80" font-size="12.15" fill="#1a1a1a" stroke="#1a1a1a" stroke-width="0.25">Time (s)</text>
<text transform="translate(309.6,345.3) rotate(-90)" font-size="11.8" fill="#1a1a1a" stroke="#1a1a1a" stroke-width="0.25" text-anchor="middle">Current (mA)</text>
<text x="287.00" y="266.00" font-size="25.3" fill="#000" font-weight="bold">e</text>
<path d="M619,246.1 L844,246.1 L844,427.8 L619,427.8" fill="none" stroke="#111" stroke-width="1.4" stroke-linecap="square"/>
<path d="M619,427.8 L619,246.1" fill="none" stroke="#222" stroke-width="1.05"/>
<path d="M619.20,267.00 C619.27,270.83 619.40,282.00 619.60,290.00 C619.80,298.00 620.07,307.17 620.40,315.00 C620.73,322.83 621.00,328.50 621.60,337.00 C622.20,345.50 623.27,357.83 624.00,366.00 C624.73,374.17 625.17,379.33 626.00,386.00 C626.83,392.67 628.23,401.50 629.00,406.00 C629.77,410.50 629.77,411.63 630.60,413.00 C631.43,414.37 632.77,413.93 634.00,414.20 C635.23,414.47 636.83,414.73 638.00,414.60 C639.17,414.47 639.83,413.90 641.00,413.40 C642.17,412.90 642.67,412.20 645.00,411.60 C647.33,411.00 651.67,410.20 655.00,409.80 C658.33,409.40 661.67,409.17 665.00,409.20 C668.33,409.23 671.67,409.70 675.00,410.00 C678.33,410.30 681.67,410.57 685.00,411.00 C688.33,411.43 691.67,411.95 695.00,412.60 C698.33,413.25 701.67,414.03 705.00,414.90 C708.33,415.77 711.67,416.85 715.00,417.80 C718.33,418.75 721.67,419.73 725.00,420.60 C728.33,421.47 731.67,422.37 735.00,423.00 C738.33,423.63 742.17,424.08 745.00,424.40 C747.83,424.72 748.50,424.75 752.00,424.90 C755.50,425.05 763.00,425.22 766.00,425.30 C769.00,425.38 766.33,425.30 770.00,425.40 C773.67,425.50 775.67,425.70 788.00,425.90 C800.33,426.10 834.67,426.48 844.00,426.60 L844.00,427.8 L619.20,427.8 Z" fill="#ff9a96"/>
<path d="M619.20,267.00 C619.27,270.83 619.40,282.00 619.60,290.00 C619.80,298.00 620.07,307.17 620.40,315.00 C620.73,322.83 621.00,328.50 621.60,337.00 C622.20,345.50 623.27,357.83 624.00,366.00 C624.73,374.17 625.17,379.33 626.00,386.00 C626.83,392.67 628.23,401.50 629.00,406.00 C629.77,410.50 630.33,411.83 630.60,413.00 L630.60,427.8 L618.7,427.8 L618.7,267 Z" fill="#d900ab"/>
<path d="M618.7,427.8 L618.7,410.84 L619.00,410.84 L620.12,411.12 L621.25,411.39 L622.38,411.65 L623.50,411.91 L624.62,412.17 L625.75,412.42 L626.88,412.67 L628.00,412.92 L629.12,413.16 L630.25,413.39 L631.38,413.62 L632.50,413.85 L633.62,414.07 L634.75,414.29 L635.88,414.51 L637.00,414.72 L638.12,414.93 L639.25,415.14 L640.38,415.34 L641.50,415.54 L642.62,415.73 L643.75,415.92 L644.88,416.11 L646.00,416.30 L647.12,416.48 L648.25,416.66 L649.38,416.83 L650.50,417.00 L651.62,417.17 L652.75,417.34 L653.88,417.50 L655.00,417.66 L656.12,417.82 L657.25,417.98 L658.38,418.13 L659.50,418.28 L660.62,418.43 L661.75,418.57 L662.88,418.72 L664.00,418.86 L665.12,419.00 L666.25,419.13 L667.38,419.26 L668.50,419.39 L669.62,419.52 L670.75,419.65 L671.88,419.77 L673.00,419.90 L674.12,420.02 L675.25,420.13 L676.38,420.25 L677.50,420.36 L678.62,420.48 L679.75,420.59 L680.88,420.69 L682.00,420.80 L683.12,420.90 L684.25,421.01 L685.38,421.11 L686.50,421.21 L687.62,421.30 L688.75,421.40 L689.88,421.49 L691.00,421.59 L692.12,421.68 L693.25,421.77 L694.38,421.86 L695.50,421.94 L696.62,422.03 L697.75,422.11 L698.88,422.19 L700.00,422.27 L701.12,422.35 L702.25,422.43 L703.38,422.51 L704.50,422.58 L705.62,422.66 L706.75,422.73 L707.88,422.80 L709.00,422.87 L710.12,422.94 L711.25,423.01 L712.38,423.07 L713.50,423.14 L714.62,423.20 L715.75,423.27 L716.88,423.33 L718.00,423.39 L719.12,423.45 L720.25,423.51 L721.38,423.57 L722.50,423.62 L723.62,423.68 L724.75,423.73 L725.88,423.79 L727.00,423.84 L728.12,423.89 L729.25,423.95 L730.38,424.00 L731.50,424.05 L732.62,424.09 L733.75,424.14 L734.88,424.19 L736.00,424.24 L737.12,424.28 L738.25,424.33 L739.38,424.37 L740.50,424.41 L741.62,424.46 L742.75,424.50 L743.88,424.54 L745.00,424.58 L746.12,424.62 L747.25,424.66 L748.38,424.70 L749.50,424.73 L750.62,424.77 L751.75,424.81 L752.88,424.84 L754.00,424.88 L755.12,424.91 L756.25,424.95 L757.38,424.98 L758.50,425.01 L759.62,425.05 L760.75,425.08 L761.88,425.11 L763.00,425.14 L764.12,425.17 L765.25,425.20 L766.38,425.23 L767.50,425.26 L768.62,425.28 L769.75,425.31 L770.88,425.34 L772.00,425.37 L773.12,425.39 L774.25,425.42 L775.38,425.44 L776.50,425.47 L777.62,425.49 L778.75,425.52 L779.88,425.54 L781.00,425.56 L782.12,425.59 L783.25,425.61 L784.38,425.63 L785.50,425.65 L786.62,425.67 L787.75,425.69 L788.88,425.71 L790.00,425.73 L791.12,425.75 L792.25,425.77 L793.38,425.79 L794.50,425.81 L795.62,425.83 L796.75,425.85 L797.88,425.87 L799.00,425.88 L800.12,425.90 L801.25,425.92 L802.38,425.93 L803.50,425.95 L804.62,425.97 L805.75,425.98 L806.88,426.00 L808.00,426.01 L809.12,426.03 L810.25,426.04 L811.38,426.06 L812.50,426.07 L813.62,426.09 L814.75,426.10 L815.88,426.11 L817.00,426.13 L818.12,426.14 L819.25,426.15 L820.38,426.17 L821.50,426.18 L822.62,426.19 L823.75,426.20 L824.88,426.21 L826.00,426.23 L827.12,426.24 L828.25,426.25 L829.38,426.26 L830.50,426.27 L831.62,426.28 L832.75,426.29 L833.88,426.30 L835.00,426.31 L836.12,426.32 L837.25,426.33 L838.38,426.34 L839.50,426.35 L840.62,426.36 L841.75,426.37 L842.88,426.38 L844.00,426.39 L844,427.8 Z" fill="#00c000"/>
<line x1="663.4" y1="373.6" x2="663.4" y2="426.8" stroke="#111" stroke-width="1.15" stroke-dasharray="1.9 5.5"/>
<path d="M619.20,267.00 C619.27,270.83 619.40,282.00 619.60,290.00 C619.80,298.00 620.07,307.17 620.40,315.00 C620.73,322.83 621.00,328.50 621.60,337.00 C622.20,345.50 623.27,357.83 624.00,366.00 C624.73,374.17 625.17,379.33 626.00,386.00 C626.83,392.67 628.23,401.50 629.00,406.00 C629.77,410.50 629.77,411.63 630.60,413.00 C631.43,414.37 632.77,413.93 634.00,414.20 C635.23,414.47 636.83,414.73 638.00,414.60 C639.17,414.47 639.83,413.90 641.00,413.40 C642.17,412.90 642.67,412.20 645.00,411.60 C647.33,411.00 651.67,410.20 655.00,409.80 C658.33,409.40 661.67,409.17 665.00,409.20 C668.33,409.23 671.67,409.70 675.00,410.00 C678.33,410.30 681.67,410.57 685.00,411.00 C688.33,411.43 691.67,411.95 695.00,412.60 C698.33,413.25 701.67,414.03 705.00,414.90 C708.33,415.77 711.67,416.85 715.00,417.80 C718.33,418.75 721.67,419.73 725.00,420.60 C728.33,421.47 731.67,422.37 735.00,423.00 C738.33,423.63 742.17,424.08 745.00,424.40 C747.83,424.72 748.50,424.75 752.00,424.90 C755.50,425.05 763.00,425.22 766.00,425.30 C769.00,425.38 769.33,425.38 770.00,425.40" fill="none" stroke="#ff1010" stroke-width="1.7" stroke-dasharray="0.01 6.6" stroke-linecap="round"/>
<path d="M770.00,425.40 C773.00,425.48 775.67,425.70 788.00,425.90 C800.33,426.10 834.67,426.48 844.00,426.60" fill="none" stroke="#ff1010" stroke-width="1.2" stroke-dasharray="0.01 15.2" stroke-linecap="round" opacity="0.45"/>
<line x1="619.5" y1="268.5" x2="619.9" y2="270" stroke="#ff1010" stroke-width="1.6" stroke-dasharray="0.01 6" stroke-linecap="round"/>
<line x1="614.80" y1="427.80" x2="619" y2="427.80" stroke="#111" stroke-width="1.3"/>
<text x="613.00" y="432.05" font-size="12.2" fill="#1a1a1a" stroke="#1a1a1a" stroke-width="0.25" text-anchor="end">0.0</text>
<line x1="614.80" y1="367.23" x2="619" y2="367.23" stroke="#111" stroke-width="1.3"/>
<text x="613.00" y="371.48" font-size="12.2" fill="#1a1a1a" stroke="#1a1a1a" stroke-width="0.25" text-anchor="end">0.2</text>
<line x1="614.80" y1="306.67" x2="619" y2="306.67" stroke="#111" stroke-width="1.3"/>
<text x="613.00" y="310.92" font-size="12.2" fill="#1a1a1a" stroke="#1a1a1a" stroke-width="0.25" text-anchor="end">0.4</text>
<line x1="614.80" y1="246.10" x2="619" y2="246.10" stroke="#111" stroke-width="1.3"/>
<text x="613.00" y="250.35" font-size="12.2" fill="#1a1a1a" stroke="#1a1a1a" stroke-width="0.25" text-anchor="end">0.6</text>
<line x1="619.00" y1="427.8" x2="619.00" y2="432.10" stroke="#111" stroke-width="1.3"/>
<text x="619.00" y="443.80" font-size="12.2" fill="#1a1a1a" stroke="#1a1a1a" stroke-width="0.25" text-anchor="middle">0</text>
<line x1="675.25" y1="427.8" x2="675.25" y2="432.10" stroke="#111" stroke-width="1.3"/>
<text x="675.25" y="443.80" font-size="12.2" fill="#1a1a1a" stroke="#1a1a1a" stroke-width="0.25" text-anchor="middle">5000</text>
<line x1="731.50" y1="427.8" x2="731.50" y2="432.10" stroke="#111" stroke-width="1.3"/>
<text x="731.50" y="443.80" font-size="12.2" fill="#1a1a1a" stroke="#1a1a1a" stroke-width="0.25" text-anchor="middle">10000</text>
<line x1="787.75" y1="427.8" x2="787.75" y2="432.10" stroke="#111" stroke-width="1.3"/>
<text x="787.75" y="443.80" font-size="12.2" fill="#1a1a1a" stroke="#1a1a1a" stroke-width="0.25" text-anchor="middle">15000</text>
<line x1="844.00" y1="427.8" x2="844.00" y2="432.10" stroke="#111" stroke-width="1.3"/>
<text x="844.00" y="443.80" font-size="12.2" fill="#1a1a1a" stroke="#1a1a1a" stroke-width="0.25" text-anchor="middle">20000</text>
<text x="642.00" y="293.60" font-size="10.25" fill="#f016c6" stroke="#f016c6" stroke-width="0.2">I<tspan dy="3.90" font-size="6.35" stroke-width="0.08">1</tspan><tspan dy="-3.90">=0.48195*exp(0.48195*t)</tspan></text>
<text x="662.00" y="309.00" font-size="10.25" fill="#f016c6" stroke="#f016c6" stroke-width="0.2">Reduction of Li<tspan dy="3.90" font-size="6.35" stroke-width="0.08">2</tspan><tspan dy="-3.90">S</tspan><tspan dy="3.90" font-size="6.35" stroke-width="0.08">8</tspan></text>
<text x="703.40" y="336.00" font-size="10.25" fill="#ff9e99" stroke="#ff9e99" stroke-width="0.2">101.377 mAh g<tspan dy="3.90" font-size="6.35" stroke-width="0.08">s</tspan><tspan dy="-8.81" font-size="6.35" stroke-width="0.08">-1</tspan></text>
<text x="703.00" y="351.60" font-size="10.25" fill="#ff9e99" stroke="#ff9e99" stroke-width="0.2">Precipitation of Li<tspan dy="3.90" font-size="6.35" stroke-width="0.08">2</tspan><tspan dy="-3.90">S</tspan></text>
<text x="695.40" y="379.00" font-size="10.25" fill="#00c020" stroke="#00c020" stroke-width="0.2">I<tspan dy="3.90" font-size="6.35" stroke-width="0.08">2</tspan><tspan dy="-3.90">=-2.89444*exp(-1.73453*10</tspan><tspan dy="-4.92" font-size="6.35" stroke-width="0.08">-4</tspan><tspan dy="4.92">*t)</tspan></text>
<text x="726.60" y="394.00" font-size="10.25" fill="#00c020" stroke="#00c020" stroke-width="0.2">Reduction of Li<tspan dy="3.90" font-size="6.35" stroke-width="0.08">2</tspan><tspan dy="-3.90">S</tspan><tspan dy="3.90" font-size="6.35" stroke-width="0.08">6</tspan></text>
<text x="650" y="370" font-size="9.4" fill="#111" stroke="#111" stroke-width="0.12">t=4010 s</text>
<text transform="translate(796.60,259.20) scale(0.95,1)" font-size="9.8" fill="#1a1a1a" stroke="#1a1a1a" stroke-width="0.15">RGO</text>
<line x1="656.00" y1="303.60" x2="625.77" y2="332.44" stroke="#f016c6" stroke-width="1.5"/>
<path d="M621.00,337.00 L623.91,330.49 L627.64,334.40 Z" fill="#f016c6"/>
<line x1="705.00" y1="354.00" x2="675.31" y2="405.29" stroke="#ff9e99" stroke-width="1.5"/>
<path d="M672.00,411.00 L672.97,403.94 L677.64,406.64 Z" fill="#ff9e99"/>
<line x1="740.00" y1="396.40" x2="712.18" y2="418.41" stroke="#00c020" stroke-width="1.5"/>
<path d="M707.00,422.50 L710.50,416.29 L713.85,420.52 Z" fill="#00c020"/>
<text x="709.40" y="462.80" font-size="12.15" fill="#1a1a1a" stroke="#1a1a1a" stroke-width="0.25">Time (s)</text>
<text transform="translate(589,344.9) rotate(-90)" font-size="11.8" fill="#1a1a1a" stroke="#1a1a1a" stroke-width="0.25" text-anchor="middle">Current (mA)</text>
<text x="570.20" y="266.00" font-size="25" fill="#000" font-weight="bold">f</text>
</svg>
</body></html>
